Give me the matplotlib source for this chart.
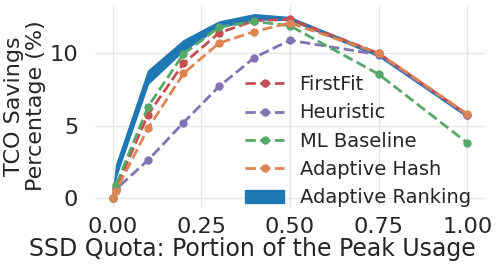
import matplotlib
matplotlib.use("Agg")
import matplotlib.pyplot as plt
import seaborn as sns

sns.set_theme(style="whitegrid")
plt.rcParams['font.family'] = ['DejaVu Sans']

quota = [0, 0.01, 0.1, 0.2, 0.3, 0.4, 0.5, 0.75, 1.0]
firstfit = [0, 0.7, 5.75, 9.3, 11.4, 12.25, 12.35, 10.0, 5.75]
heuristic = [0, 0.6, 2.6, 5.2, 7.7, 9.7, 10.9, 9.9, 5.7]
ml_baseline = [0, 0.9, 6.3, 9.95, 11.8, 12.2, 11.9, 8.55, 3.8]
adaptive_hash = [0, 0.5, 4.8, 8.6, 10.7, 11.5, 12.1, 10.0, 5.8]
ranking_low = [0, 1.5, 7.9, 10.2, 11.8, 12.35, 12.3, 9.8, 5.6]
ranking_high = [0, 2.3, 8.8, 10.9, 12.2, 12.7, 12.5, 10.0, 5.8]

labels = ["FirstFit", "Heuristic", "ML Baseline", "Adaptive Hash", "Adaptive Ranking"]
colors = ["#C44E52", "#8172B3", "#55A868", "#DD8452", "#1f77b4"]

fig = plt.figure(figsize=(4.99, 2.65), dpi=100)
ax = fig.add_axes([0.19, 0.219, 0.782, 0.762])

series = [firstfit, heuristic, ml_baseline, adaptive_hash]
for vals, lab, col in zip(series, labels[:4], colors[:4]):
    ax.plot(quota, vals, linestyle="--", marker="o", color=col, label=lab,
            lw=2, markersize=5)
ax.fill_between(quota, ranking_low, ranking_high, color=colors[4], label=labels[4])

ax.set_xticks([0, 0.25, 0.5, 0.75, 1.0])
ax.set_xticklabels(["0.00", "0.25", "0.50", "0.75", "1.00"])
ax.set_yticks([0, 5, 10])
ax.tick_params(axis='x', labelsize=16.2, pad=1)
ax.tick_params(axis='y', labelsize=16.2, pad=6)
ax.set_xlabel("SSD Quota: Portion of the Peak Usage", fontsize=17)
ax.xaxis.set_label_coords(0.405, -0.15, transform=ax.transAxes)
ax.set_ylabel("TCO Savings\nPercentage (%)", fontsize=16, linespacing=1.1)
ax.yaxis.set_label_coords(-0.125, 0.5, transform=ax.transAxes)
for s in ax.spines.values():
    s.set_visible(False)
ax.grid(color="#e6e6e6")

ax.legend(loc="lower right", frameon=False, fontsize=14, bbox_to_anchor=(0.998, -0.07),
          labelspacing=0.48, handlelength=2.0, borderpad=0.2)

fig.savefig("out.png", dpi=100)
